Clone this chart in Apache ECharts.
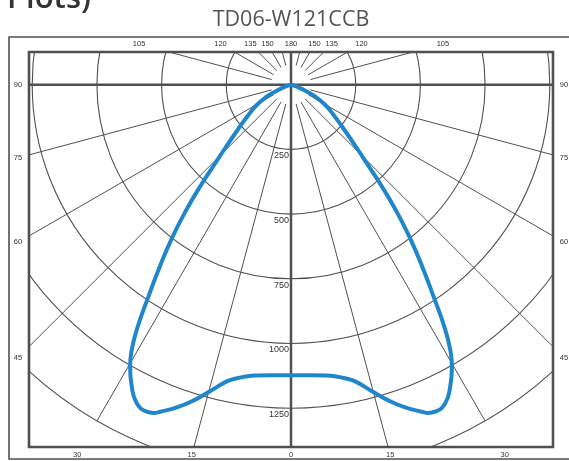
<!DOCTYPE html>
<html>
<head>
<meta charset="utf-8">
<script src="https://cdn.jsdelivr.net/npm/echarts@6/dist/echarts.min.js"></script>
<style>
html,body{margin:0;padding:0;background:#fff;}
#c{width:569px;height:461px;}
</style>
</head>
<body>
<div id="c"></div>
<script>
// ---- data ----
// C0 half-plane: gamma angle (deg from nadir) and luminous intensity (cd)
var gammaAngles = [90, 71.6, 67.2, 63.7, 59.4, 54.6, 50.6, 46.3, 43.6, 42.0, 39.9, 37.9, 35.8, 34.1, 32.3, 31.0, 29.7, 27.8, 25.8, 23.8, 22.7, 21.8, 19.5, 17.2, 14.8, 12.2, 10.6, 8.8, 6.9, 3.9, 0];
var intensities = [0, 24, 60, 105, 154, 202, 256, 347, 437, 514, 630, 745, 867, 975, 1111, 1195, 1255, 1319, 1368, 1381, 1375, 1361, 1323, 1278, 1225, 1173, 1155, 1141, 1132, 1125, 1123];
// tick labels
var radialTicks = [250, 500, 750, 1000, 1250];
var angleTickLabels = [0, 15, 30, 45, 60, 75, 90, 105, 120, 135, 150, 180];
var titleText = 'TD06-W121CCB';
var headingText = 'Plots)';

// ---- layout constants ----
var CX = 291, CY = 84.7;
var RMAX = 1500, RPX = 388.2;
var INNER = {x: 29, y: 52, w: 524, h: 395};
var OUTER = {x: 9, y: 37, w: 564, h: 422};
var LBL = {left: 18, right: 564, top: 44, bottom: 455};
var GRID = '#505050';

// curve data: left half then mirrored right half
var curve = [];
for (var i = 0; i < gammaAngles.length; i++) curve.push([intensities[i], gammaAngles[i]]);
for (var j = gammaAngles.length - 2; j >= 0; j--) curve.push([intensities[j], 360 - gammaAngles[j]]);

var chart = echarts.init(document.getElementById('c'), null, {renderer: 'canvas', width: 569, height: 461});

var hidden = {axisLine: {show: false}, axisTick: {show: false}, axisLabel: {show: false}};
chart.setOption({
  animation: false,
  polar: [
    {center: [CX, CY], radius: RPX},
    {center: [CX, CY], radius: [20, RPX]}
  ],
  angleAxis: [
    Object.assign({polarIndex: 0, type: 'value', min: 0, max: 360, startAngle: 270, clockwise: true, splitLine: {show: false}}, hidden),
    Object.assign({polarIndex: 1, type: 'value', min: 0, max: 360, interval: 15, startAngle: 270, clockwise: true,
      splitLine: {show: true, lineStyle: {color: GRID, width: 1}}}, hidden)
  ],
  radiusAxis: [
    Object.assign({polarIndex: 0, type: 'value', min: 0, max: RMAX, interval: 250,
      splitLine: {show: true, lineStyle: {color: GRID, width: 1.1}}}, hidden),
    Object.assign({polarIndex: 1, type: 'value', min: 0, max: RMAX, splitLine: {show: false}}, hidden)
  ],
  series: [
    {type: 'line', coordinateSystem: 'polar', polarIndex: 0, data: [[RMAX, 180], [RMAX, 0]], showSymbol: false, symbol: 'none', silent: true, clip: false,
      lineStyle: {color: GRID, width: 2.5}, z: 3},
    {type: 'line', coordinateSystem: 'polar', polarIndex: 0, data: [[RMAX, 90], [RMAX, 270]], showSymbol: false, symbol: 'none', silent: true, clip: false,
      lineStyle: {color: GRID, width: 2.5}, z: 3},
    {type: 'line', coordinateSystem: 'polar', polarIndex: 0, data: curve, showSymbol: false, symbol: 'none', smooth: 0.5, clip: false,
      lineStyle: {color: '#2086cc', width: 4}, z: 5}
  ]
});

function px(v) {
  var p = null;
  try { p = chart.convertToPixel({seriesIndex: 2}, v); } catch (e) { p = null; }
  if (!p || isNaN(p[0])) {
    var a = v[1] * Math.PI / 180, r = v[0] / RMAX * RPX;
    p = [CX - r * Math.sin(a), CY + r * Math.cos(a)];
  }
  return p;
}

var c = px([0, 0]);
var g = [];
// white mask outside the inner frame
g.push({type: 'rect', shape: {x: 0, y: 0, width: 569, height: INNER.y}, style: {fill: '#fff'}, z: 100, silent: true});
g.push({type: 'rect', shape: {x: 0, y: INNER.y + INNER.h, width: 569, height: 461 - INNER.y - INNER.h}, style: {fill: '#fff'}, z: 100, silent: true});
g.push({type: 'rect', shape: {x: 0, y: 0, width: INNER.x, height: 461}, style: {fill: '#fff'}, z: 100, silent: true});
g.push({type: 'rect', shape: {x: INNER.x + INNER.w, y: 0, width: 569 - INNER.x - INNER.w, height: 461}, style: {fill: '#fff'}, z: 100, silent: true});
// frames
g.push({type: 'rect', shape: {x: OUTER.x, y: OUTER.y, width: OUTER.w, height: OUTER.h}, style: {fill: 'none', stroke: GRID, lineWidth: 1.6}, z: 101, silent: true});
g.push({type: 'rect', shape: {x: INNER.x, y: INNER.y, width: INNER.w, height: INNER.h}, style: {fill: 'none', stroke: GRID, lineWidth: 2.6}, z: 101, silent: true});
// title & heading
g.push({type: 'text', x: 291, y: 20, style: {text: titleText, fill: '#555', font: '400 21.5px "Open Sans", sans-serif', align: 'center', verticalAlign: 'middle'}, z: 102, silent: true});
g.push({type: 'text', x: 7, y: 15, style: {text: headingText, fill: '#333', font: '600 31px "Open Sans", sans-serif', align: 'left', verticalAlign: 'bottom'}, z: 102, silent: true});

// angle labels where spokes meet the label rectangle
function rayHit(angle) {
  var p = px([1000, angle]);
  var dx = p[0] - c[0], dy = p[1] - c[1];
  var L = Math.sqrt(dx * dx + dy * dy); dx /= L; dy /= L;
  var ts = [];
  if (dx < -1e-6) ts.push((LBL.left - c[0]) / dx);
  if (dx > 1e-6) ts.push((LBL.right - c[0]) / dx);
  if (dy < -1e-6) ts.push((LBL.top - c[1]) / dy);
  if (dy > 1e-6) ts.push((LBL.bottom - c[1]) / dy);
  var t = Math.min.apply(null, ts);
  return [c[0] + t * dx, c[1] + t * dy];
}
var lblFont = '7.5px "Liberation Sans", Arial, sans-serif';
angleTickLabels.forEach(function (a) {
  var sides = (a === 0 || a === 180) ? [a] : [a, 360 - a];
  sides.forEach(function (ang) {
    var h = rayHit(ang);
    g.push({type: 'text', x: h[0], y: h[1], style: {text: String(a), fill: '#333', font: lblFont, align: 'center', verticalAlign: 'middle'}, z: 102, silent: true});
  });
});
// radial labels
radialTicks.forEach(function (v) {
  var p = px([v, 0]);
  g.push({type: 'text', x: p[0] - 2, y: p[1] + 6.5, style: {text: String(v), fill: '#333', font: '9px "Liberation Sans", Arial, sans-serif', align: 'right', verticalAlign: 'middle'}, z: 6, silent: true});
});

chart.setOption({graphic: {elements: g}});
</script>
</body>
</html>
